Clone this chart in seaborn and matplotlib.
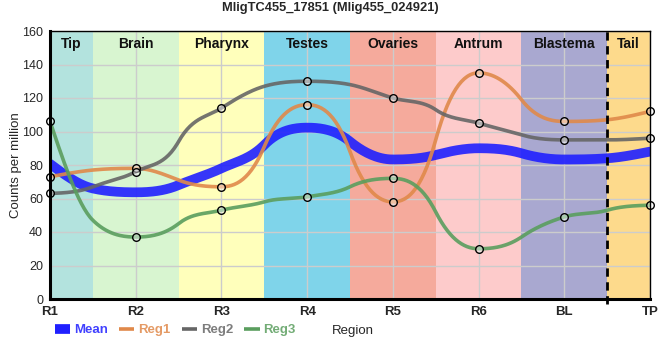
import numpy as np
import pandas as pd
import matplotlib
matplotlib.use("Agg")
import matplotlib.pyplot as plt
from matplotlib.lines import Line2D
import seaborn as sns

# Data
regions = ["R1", "R2", "R3", "R4", "R5", "R6", "BL", "TP"]
mean_vals = [80.7, 63.7, 78.0, 102.3, 83.3, 90.0, 83.3, 88.0]
reg1 = [73, 78, 67, 116, 58, 135, 106, 112]
reg2 = [63, 76, 114, 130, 120, 105, 95, 96]
reg3 = [106, 37, 53, 61, 72, 30, 49, 56]

# curve values read at the band borders (between the regions)
mean_edge = [66, 68, 92, 94, 86, 87, 84]
reg1_edge = [77, 71, 91, 88, 95, 119, 107]
reg2_edge = [67, 94, 127, 128, 113, 98, 95]
reg3_edge = [47, 45, 58, 67, 52, 37, 53]

band_names = ["Tip", "Brain", "Pharynx", "Testes", "Ovaries", "Antrum", "Blastema", "Tail"]
band_edges = [1, 1.5, 2.5, 3.5, 4.5, 5.5, 6.5, 7.5, 8]
band_colors = ["#b3e3de", "#d8f5d0", "#ffffbb", "#7fd4ea", "#f5aa9c", "#fdcbcb", "#a9a8d0", "#fdda8c"]

title = "MligTC455_17851 (Mlig455_024921)"


def smooth_curve(x, y, is_edge, n=30):
    # monotone cubic; steeper tangents at the band borders
    x = np.asarray(x, dtype=float)
    y = np.asarray(y, dtype=float)
    h = np.diff(x)
    s = np.diff(y) / h
    t = np.zeros(len(y))
    for i in range(1, len(y) - 1):
        s0, s1 = s[i - 1], s[i]
        if is_edge[i]:
            t[i] = (np.sign(s0) + np.sign(s1)) / 2 * 2.5 * min(abs(s0), abs(s1))
        else:
            p = (s0 + s1) / 2
            t[i] = (np.sign(s0) + np.sign(s1)) * min(abs(s0), abs(s1), 0.5 * abs(p))
    t[0] = (3 * s[0] - t[1]) / 2
    t[-1] = (3 * s[-1] - t[-2]) / 2
    xs, ys = [], []
    for i in range(len(y) - 1):
        u = np.linspace(0, 1, n, endpoint=(i == len(y) - 2))
        h00 = 2 * u**3 - 3 * u**2 + 1
        h10 = u**3 - 2 * u**2 + u
        h01 = -2 * u**3 + 3 * u**2
        h11 = u**3 - u**2
        xs.append(x[i] + u * h[i])
        ys.append(h00 * y[i] + h10 * h[i] * t[i] + h01 * y[i + 1] + h11 * h[i] * t[i + 1])
    return np.concatenate(xs), np.concatenate(ys)


def knots(vals, edges):
    kx, ky, flag = [], [], []
    for i, v in enumerate(vals):
        kx.append(i + 1)
        ky.append(v)
        flag.append(False)
        if i < len(edges):
            kx.append(i + 1.5)
            ky.append(edges[i])
            flag.append(True)
    return kx, ky, flag


series = {"Mean": (mean_vals, mean_edge), "Reg1": (reg1, reg1_edge),
          "Reg2": (reg2, reg2_edge), "Reg3": (reg3, reg3_edge)}
colors = {"Mean": "#2020ff", "Reg1": "#e0894a", "Reg2": "#666666", "Reg3": "#5a9e5e"}
widths = {"Mean": 7, "Reg1": 2.6, "Reg2": 2.6, "Reg3": 2.6}

sns.set_style("white")
plt.rcParams["font.family"] = ["Liberation Sans", "DejaVu Sans"]

fig = plt.figure(figsize=(6.6, 3.6), dpi=100)
ax = fig.add_axes([50 / 660, 1 - 299 / 360, 600 / 660, 268 / 360])

# region bands
for i, name in enumerate(band_names):
    ax.axvspan(band_edges[i], band_edges[i + 1], color=band_colors[i], lw=0, zorder=0)
    ax.text((band_edges[i] + band_edges[i + 1]) / 2, 152.5, name, ha="center", va="center",
            fontsize=10, fontweight="bold", color="#111111", zorder=5)

ax.set_xlim(1, 8)
ax.set_ylim(0, 160)
ax.set_xticks(range(1, 9))
ax.set_xticklabels(regions, fontweight="bold", fontsize=9.5)
ax.set_yticks(range(0, 161, 20))
ax.tick_params(axis="y", labelsize=9, length=0, pad=5)
ax.tick_params(axis="x", length=0, pad=5)
ax.grid(True, color="#cccccc", lw=1, zorder=1)
ax.set_axisbelow(True)

# curves
for name, (vals, edges) in series.items():
    cx, cy = smooth_curve(*knots(vals, edges))
    df = pd.DataFrame({"x": cx, "y": cy})
    sns.lineplot(data=df, x="x", y="y", ax=ax, color=colors[name], lw=widths[name],
                 alpha=0.9, zorder=3 if name == "Mean" else 4, sort=False)

# point markers
for name in ["Reg1", "Reg2", "Reg3"]:
    pts = pd.DataFrame({"x": np.arange(1, 9), "y": series[name][0]})
    sns.scatterplot(data=pts, x="x", y="y", ax=ax, s=30, facecolor=(1, 1, 1, 0.45),
                    edgecolor="black", linewidth=1, zorder=6, clip_on=False)

# dashed separator before tail
ax.plot([7.5, 7.5], [-3, 160], color="black", lw=2, ls=(0, (3, 2)), zorder=7, clip_on=False)

for side in ["left", "bottom"]:
    ax.spines[side].set_linewidth(2.2)
for side in ["top", "right"]:
    ax.spines[side].set_linewidth(1)
for sp in ax.spines.values():
    sp.set_color("black")
    sp.set_zorder(8)

ax.set_xlabel("")
ax.set_ylabel("Counts per million", fontsize=9.5)
ax.yaxis.set_label_coords(-0.047, 0.5)
fig.text(0.5, 1 - 8 / 360, title, ha="center", va="center", fontsize=9.3, fontweight="bold")
fig.text(332 / 660, 1 - 331 / 360, "Region", ha="left", va="center", fontsize=9.5)

handles = [Line2D([], [], color=colors[n], lw=widths[n], solid_capstyle="butt") for n in series]
leg = fig.legend(handles, list(series.keys()), loc="center left", bbox_to_anchor=(55 / 660, 1 - 330 / 360),
                 ncol=4, frameon=False, handlelength=1.15, handletextpad=0.3, columnspacing=0.85,
                 borderpad=0, borderaxespad=0, prop={"weight": "bold", "size": 9.5})
for txt, n in zip(leg.get_texts(), series):
    txt.set_color(colors[n])
    txt.set_alpha(0.85)

fig.savefig("out.png", dpi=100)
